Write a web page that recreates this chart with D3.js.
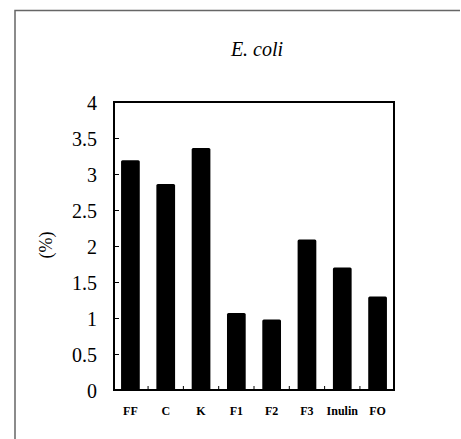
<!DOCTYPE html>
<html>
<head>
<meta charset="utf-8">
<script src="https://cdn.jsdelivr.net/npm/d3@7"></script>
<style>
    body { margin: 0; background: #fff; }
    text { font-family: "Liberation Serif", "DejaVu Serif", serif; fill: #000; }
</style>
</head>
<body>
<div id="field"></div>
<script>

const categories = ["FF", "C", "K", "F1", "F2", "F3", "Inulin", "FO"];
const values = [3.19, 2.86, 3.36, 1.07, 0.98, 2.09, 1.70, 1.30];
const yTicks = [0, 0.5, 1, 1.5, 2, 2.5, 3, 3.5, 4];
const yTickLabels = ["0", "0.5", "1", "1.5", "2", "2.5", "3", "3.5", "4"];

const width = 461;
const height = 439;

// plot frame
const plotLeft = 114;
const plotRight = 394;
const plotTop = 102;
const plotBottom = 390;

const chart = d3.select("#field")
    .append("svg")
    .attr("width", width)
    .attr("height", height);

// outer border (only top and left visible in the scan)
chart.append("path")
    .attr("d", "M15,439V10.5H460")
    .attr("fill", "none")
    .attr("stroke", "#666")
    .attr("stroke-width", 1.5);

const xScale = d3.scaleBand()
    .domain(categories)
    .range([plotLeft, plotRight])
    .paddingInner(0.47)
    .paddingOuter(0.2);

const yScale = d3.scaleLinear()
    .domain([0, 4])
    .range([plotBottom, plotTop]);

// bars
chart.append("g").selectAll("rect")
    .data(values)
    .enter().append("rect")
    .attr("x", function(d, i) { return xScale(categories[i]); })
    .attr("y", function(d) { return yScale(d); })
    .attr("width", xScale.bandwidth())
    .attr("height", function(d) { return yScale(0) - yScale(d); })
    .attr("rx", 1.5)
    .attr("fill", "#000");

// y axis, ticks pointing inward
const yAxis = d3.axisLeft(yScale)
    .tickValues(yTicks)
    .tickFormat(function(d, i) { return yTickLabels[i]; })
    .tickSize(-5)
    .tickPadding(17)
    .tickSizeOuter(0);

const yG = chart.append("g")
    .attr("transform", "translate(" + plotLeft + ",0)")
    .call(yAxis);
yG.select(".domain").remove();
yG.selectAll("line").attr("stroke", "#000").attr("stroke-width", 1);
yG.selectAll("text")
    .attr("font-size", 20)
    .attr("dy", "0.36em");

// x axis: small inward ticks between categories
const step = xScale.step();
const boundaries = categories.slice(1).map(function(c) {
    return xScale(c) - xScale.paddingInner() * step / 2;
});
chart.append("g").selectAll("line")
    .data(boundaries)
    .enter().append("line")
    .attr("x1", function(d) { return d; })
    .attr("x2", function(d) { return d; })
    .attr("y1", plotBottom)
    .attr("y2", plotBottom - 4)
    .attr("stroke", "#000")
    .attr("stroke-width", 1);

chart.append("g").selectAll("text")
    .data(categories)
    .enter().append("text")
    .attr("x", function(d) { return xScale(d) + xScale.bandwidth() / 2; })
    .attr("y", 415)
    .attr("text-anchor", "middle")
    .attr("font-size", 12)
    .attr("font-weight", "bold")
    .text(function(d) { return d; });

// frame
chart.append("rect")
    .attr("x", plotLeft)
    .attr("y", plotTop)
    .attr("width", plotRight - plotLeft)
    .attr("height", plotBottom - plotTop)
    .attr("fill", "none")
    .attr("stroke", "#000")
    .attr("stroke-width", 2);

// title
chart.append("text")
    .attr("x", 257)
    .attr("y", 56)
    .attr("text-anchor", "middle")
    .attr("font-size", 20)
    .attr("font-style", "italic")
    .text("E. coli");

// y label
chart.append("text")
    .attr("transform", "translate(52,245) rotate(-90)")
    .attr("text-anchor", "middle")
    .attr("font-size", 18)
    .text("(%)");

</script>
</body>
</html>
